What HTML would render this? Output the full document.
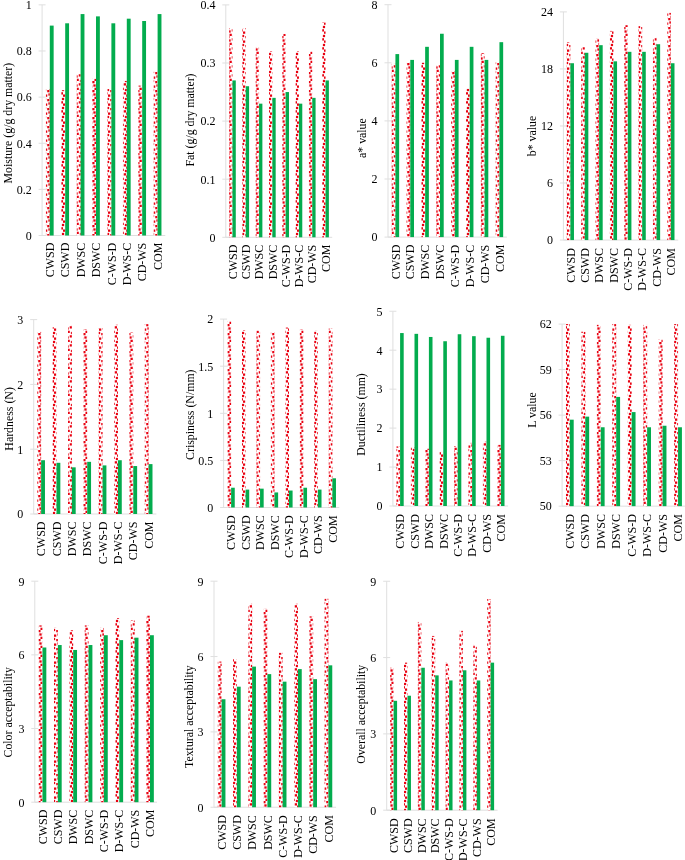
<!DOCTYPE html>
<html lang="en">
<head>
<meta charset="utf-8">
<title>Figure</title>
<style>
html,body{margin:0;padding:0;background:#fff;}
svg{display:block;will-change:transform;opacity:0.999;}
text{font-family:"Liberation Serif","Times New Roman",serif;font-size:12.0px;fill:#000;}
.ax{stroke:#dfdfdf;stroke-width:1;fill:none;}
.g{fill:#03ac4e;}
.r{fill:url(#conf);}
</style>
</head>
<body>
<svg width="685" height="860" viewBox="0 0 685 860">
<defs>
<pattern id="conf" patternUnits="userSpaceOnUse" width="9" height="9">
<rect x="0" y="0" width="9" height="9" fill="#fff"/>
<rect x="2.225" y="-0.025" width="2.300" height="2.300" fill="#e80010"/>
<rect x="6.725" y="2.225" width="2.300" height="2.300" fill="#e80010"/>
<rect x="3.350" y="3.350" width="2.300" height="2.300" fill="#e80010"/>
<rect x="-0.025" y="4.475" width="2.300" height="2.300" fill="#e80010"/>
<rect x="4.475" y="6.725" width="2.300" height="2.300" fill="#e80010"/>
<rect x="7.850" y="7.850" width="2.300" height="2.300" fill="#e80010"/>
<rect x="-1.150" y="7.850" width="2.300" height="2.300" fill="#e80010"/>
<rect x="7.850" y="-1.150" width="2.300" height="2.300" fill="#e80010"/>
<rect x="-1.150" y="-1.150" width="2.300" height="2.300" fill="#e80010"/>
</pattern>
</defs>
<rect x="0" y="0" width="685" height="860" fill="#fff"/>
<g>
<path class="ax" d="M42.10 4.85V235.50H165.30M38.60 235.50h7M38.60 189.37h7M38.60 143.24h7M38.60 97.11h7M38.60 50.98h7M38.60 4.85h7"/>
<rect class="r" x="45.95" y="89.04" width="3.85" height="146.46"/><rect class="g" x="49.80" y="25.61" width="3.85" height="209.89"/>
<rect class="r" x="61.35" y="90.19" width="3.85" height="145.31"/><rect class="g" x="65.20" y="23.30" width="3.85" height="212.20"/>
<rect class="r" x="76.75" y="74.05" width="3.85" height="161.45"/><rect class="g" x="80.60" y="14.08" width="3.85" height="221.42"/>
<rect class="r" x="92.15" y="78.66" width="3.85" height="156.84"/><rect class="g" x="96.00" y="16.38" width="3.85" height="219.12"/>
<rect class="r" x="107.55" y="89.04" width="3.85" height="146.46"/><rect class="g" x="111.40" y="23.30" width="3.85" height="212.20"/>
<rect class="r" x="122.95" y="80.96" width="3.85" height="154.54"/><rect class="g" x="126.80" y="18.69" width="3.85" height="216.81"/>
<rect class="r" x="138.35" y="85.58" width="3.85" height="149.92"/><rect class="g" x="142.20" y="21.00" width="3.85" height="214.50"/>
<rect class="r" x="153.75" y="71.74" width="3.85" height="163.76"/><rect class="g" x="157.60" y="14.08" width="3.85" height="221.42"/>
<text x="31.70" y="239.80" text-anchor="end">0</text>
<text x="31.70" y="193.67" text-anchor="end">0.2</text>
<text x="31.70" y="147.54" text-anchor="end">0.4</text>
<text x="31.70" y="101.41" text-anchor="end">0.6</text>
<text x="31.70" y="55.28" text-anchor="end">0.8</text>
<text x="31.70" y="9.15" text-anchor="end">1</text>
<text transform="translate(54.00 242.70) rotate(-90)" text-anchor="end">CWSD</text>
<text transform="translate(69.40 242.70) rotate(-90)" text-anchor="end">CSWD</text>
<text transform="translate(84.80 242.70) rotate(-90)" text-anchor="end">DWSC</text>
<text transform="translate(100.20 242.70) rotate(-90)" text-anchor="end">DSWC</text>
<text transform="translate(115.60 242.70) rotate(-90)" text-anchor="end">C-WS-D</text>
<text transform="translate(131.00 242.70) rotate(-90)" text-anchor="end">D-WS-C</text>
<text transform="translate(146.40 242.70) rotate(-90)" text-anchor="end">CD-WS</text>
<text transform="translate(161.80 242.70) rotate(-90)" text-anchor="end">COM</text>
<text transform="translate(12.40 123.10) rotate(-90)" text-anchor="middle" style="font-size:11.85px">Moisture (g/g dry matter)</text>
</g>
<g>
<path class="ax" d="M225.80 4.90V237.30H332.20M222.30 237.30h7M222.30 179.20h7M222.30 121.10h7M222.30 63.00h7M222.30 4.90h7"/>
<rect class="r" x="229.12" y="28.14" width="3.33" height="209.16"/><rect class="g" x="232.45" y="80.43" width="3.33" height="156.87"/>
<rect class="r" x="242.43" y="28.14" width="3.33" height="209.16"/><rect class="g" x="245.75" y="86.24" width="3.33" height="151.06"/>
<rect class="r" x="255.72" y="47.31" width="3.33" height="189.99"/><rect class="g" x="259.05" y="103.67" width="3.33" height="133.63"/>
<rect class="r" x="269.03" y="51.38" width="3.33" height="185.92"/><rect class="g" x="272.35" y="97.86" width="3.33" height="139.44"/>
<rect class="r" x="282.32" y="33.95" width="3.33" height="203.35"/><rect class="g" x="285.65" y="92.05" width="3.33" height="145.25"/>
<rect class="r" x="295.62" y="51.38" width="3.33" height="185.92"/><rect class="g" x="298.95" y="103.67" width="3.33" height="133.63"/>
<rect class="r" x="308.93" y="51.38" width="3.33" height="185.92"/><rect class="g" x="312.25" y="97.86" width="3.33" height="139.44"/>
<rect class="r" x="322.23" y="22.33" width="3.33" height="214.97"/><rect class="g" x="325.55" y="80.43" width="3.33" height="156.87"/>
<text x="215.40" y="241.60" text-anchor="end">0</text>
<text x="215.40" y="183.50" text-anchor="end">0.1</text>
<text x="215.40" y="125.40" text-anchor="end">0.2</text>
<text x="215.40" y="67.30" text-anchor="end">0.3</text>
<text x="215.40" y="9.20" text-anchor="end">0.4</text>
<text transform="translate(236.65 244.70) rotate(-90)" text-anchor="end">CWSD</text>
<text transform="translate(249.95 244.70) rotate(-90)" text-anchor="end">CSWD</text>
<text transform="translate(263.25 244.70) rotate(-90)" text-anchor="end">DWSC</text>
<text transform="translate(276.55 244.70) rotate(-90)" text-anchor="end">DSWC</text>
<text transform="translate(289.85 244.70) rotate(-90)" text-anchor="end">C-WS-D</text>
<text transform="translate(303.15 244.70) rotate(-90)" text-anchor="end">D-WS-C</text>
<text transform="translate(316.45 244.70) rotate(-90)" text-anchor="end">CD-WS</text>
<text transform="translate(329.75 244.70) rotate(-90)" text-anchor="end">COM</text>
<text transform="translate(193.50 120.00) rotate(-90)" text-anchor="middle" style="font-size:11.85px">Fat (g/g dry matter)</text>
</g>
<g>
<path class="ax" d="M388.00 4.70V237.10H506.88M384.50 237.10h7M384.50 179.00h7M384.50 120.90h7M384.50 62.80h7M384.50 4.70h7"/>
<rect class="r" x="391.71" y="63.67" width="3.71" height="173.43"/><rect class="g" x="395.43" y="54.09" width="3.71" height="183.01"/>
<rect class="r" x="406.57" y="62.80" width="3.71" height="174.30"/><rect class="g" x="410.29" y="59.90" width="3.71" height="177.20"/>
<rect class="r" x="421.44" y="62.80" width="3.71" height="174.30"/><rect class="g" x="425.15" y="46.82" width="3.71" height="190.28"/>
<rect class="r" x="436.29" y="65.12" width="3.71" height="171.98"/><rect class="g" x="440.01" y="33.75" width="3.71" height="203.35"/>
<rect class="r" x="451.15" y="71.22" width="3.71" height="165.88"/><rect class="g" x="454.87" y="59.90" width="3.71" height="177.20"/>
<rect class="r" x="466.01" y="88.65" width="3.71" height="148.45"/><rect class="g" x="469.73" y="46.82" width="3.71" height="190.28"/>
<rect class="r" x="480.87" y="53.21" width="3.71" height="183.89"/><rect class="g" x="484.59" y="59.90" width="3.71" height="177.20"/>
<rect class="r" x="495.73" y="62.22" width="3.71" height="174.88"/><rect class="g" x="499.45" y="42.17" width="3.71" height="194.93"/>
<text x="377.60" y="241.40" text-anchor="end">0</text>
<text x="377.60" y="183.30" text-anchor="end">2</text>
<text x="377.60" y="125.20" text-anchor="end">4</text>
<text x="377.60" y="67.10" text-anchor="end">6</text>
<text x="377.60" y="9.00" text-anchor="end">8</text>
<text transform="translate(399.63 244.70) rotate(-90)" text-anchor="end">CWSD</text>
<text transform="translate(414.49 244.70) rotate(-90)" text-anchor="end">CSWD</text>
<text transform="translate(429.35 244.70) rotate(-90)" text-anchor="end">DWSC</text>
<text transform="translate(444.21 244.70) rotate(-90)" text-anchor="end">DSWC</text>
<text transform="translate(459.07 244.70) rotate(-90)" text-anchor="end">C-WS-D</text>
<text transform="translate(473.93 244.70) rotate(-90)" text-anchor="end">D-WS-C</text>
<text transform="translate(488.79 244.70) rotate(-90)" text-anchor="end">CD-WS</text>
<text transform="translate(503.65 244.70) rotate(-90)" text-anchor="end">COM</text>
<text transform="translate(366.00 138.10) rotate(-90)" text-anchor="middle" style="font-size:11.85px">a* value</text>
</g>
<g>
<path class="ax" d="M563.40 11.90V240.05H678.28M559.90 240.05h7M559.90 183.01h7M559.90 125.98h7M559.90 68.94h7M559.90 11.90h7"/>
<rect class="r" x="566.79" y="42.32" width="3.59" height="197.73"/><rect class="g" x="570.38" y="63.23" width="3.59" height="176.82"/>
<rect class="r" x="581.15" y="47.07" width="3.59" height="192.98"/><rect class="g" x="584.74" y="52.78" width="3.59" height="187.27"/>
<rect class="r" x="595.51" y="38.52" width="3.59" height="201.53"/><rect class="g" x="599.10" y="45.17" width="3.59" height="194.88"/>
<rect class="r" x="609.87" y="30.91" width="3.59" height="209.14"/><rect class="g" x="613.46" y="61.33" width="3.59" height="178.72"/>
<rect class="r" x="624.23" y="25.21" width="3.59" height="214.84"/><rect class="g" x="627.82" y="51.83" width="3.59" height="188.22"/>
<rect class="r" x="638.59" y="26.16" width="3.59" height="213.89"/><rect class="g" x="642.18" y="51.83" width="3.59" height="188.22"/>
<rect class="r" x="652.95" y="37.57" width="3.59" height="202.48"/><rect class="g" x="656.54" y="44.22" width="3.59" height="195.83"/>
<rect class="r" x="667.31" y="12.85" width="3.59" height="227.20"/><rect class="g" x="670.90" y="63.23" width="3.59" height="176.82"/>
<text x="553.00" y="244.35" text-anchor="end">0</text>
<text x="553.00" y="187.31" text-anchor="end">6</text>
<text x="553.00" y="130.28" text-anchor="end">12</text>
<text x="553.00" y="73.24" text-anchor="end">18</text>
<text x="553.00" y="16.20" text-anchor="end">24</text>
<text transform="translate(574.58 248.10) rotate(-90)" text-anchor="end">CWSD</text>
<text transform="translate(588.94 248.10) rotate(-90)" text-anchor="end">CSWD</text>
<text transform="translate(603.30 248.10) rotate(-90)" text-anchor="end">DWSC</text>
<text transform="translate(617.66 248.10) rotate(-90)" text-anchor="end">DSWC</text>
<text transform="translate(632.02 248.10) rotate(-90)" text-anchor="end">C-WS-D</text>
<text transform="translate(646.38 248.10) rotate(-90)" text-anchor="end">D-WS-C</text>
<text transform="translate(660.74 248.10) rotate(-90)" text-anchor="end">CD-WS</text>
<text transform="translate(675.10 248.10) rotate(-90)" text-anchor="end">COM</text>
<text transform="translate(535.90 136.05) rotate(-90)" text-anchor="middle" style="font-size:11.85px">b* value</text>
</g>
<g>
<path class="ax" d="M33.70 319.60V514.00H156.40M30.20 514.00h7M30.20 449.20h7M30.20 384.40h7M30.20 319.60h7"/>
<rect class="r" x="37.29" y="331.91" width="3.84" height="182.09"/><rect class="g" x="41.13" y="460.22" width="3.84" height="53.78"/>
<rect class="r" x="52.65" y="327.38" width="3.84" height="186.62"/><rect class="g" x="56.49" y="462.81" width="3.84" height="51.19"/>
<rect class="r" x="68.01" y="325.43" width="3.84" height="188.57"/><rect class="g" x="71.85" y="467.34" width="3.84" height="46.66"/>
<rect class="r" x="83.37" y="329.32" width="3.84" height="184.68"/><rect class="g" x="87.21" y="461.84" width="3.84" height="52.16"/>
<rect class="r" x="98.73" y="328.02" width="3.84" height="185.98"/><rect class="g" x="102.57" y="465.40" width="3.84" height="48.60"/>
<rect class="r" x="114.09" y="324.78" width="3.84" height="189.22"/><rect class="g" x="117.93" y="460.22" width="3.84" height="53.78"/>
<rect class="r" x="129.45" y="332.56" width="3.84" height="181.44"/><rect class="g" x="133.29" y="466.05" width="3.84" height="47.95"/>
<rect class="r" x="144.81" y="324.14" width="3.84" height="189.86"/><rect class="g" x="148.65" y="464.10" width="3.84" height="49.90"/>
<text x="23.30" y="518.30" text-anchor="end">0</text>
<text x="23.30" y="453.50" text-anchor="end">1</text>
<text x="23.30" y="388.70" text-anchor="end">2</text>
<text x="23.30" y="323.90" text-anchor="end">3</text>
<text transform="translate(45.33 521.50) rotate(-90)" text-anchor="end">CWSD</text>
<text transform="translate(60.69 521.50) rotate(-90)" text-anchor="end">CSWD</text>
<text transform="translate(76.05 521.50) rotate(-90)" text-anchor="end">DWSC</text>
<text transform="translate(91.41 521.50) rotate(-90)" text-anchor="end">DSWC</text>
<text transform="translate(106.77 521.50) rotate(-90)" text-anchor="end">C-WS-D</text>
<text transform="translate(122.13 521.50) rotate(-90)" text-anchor="end">D-WS-C</text>
<text transform="translate(137.49 521.50) rotate(-90)" text-anchor="end">CD-WS</text>
<text transform="translate(152.85 521.50) rotate(-90)" text-anchor="end">COM</text>
<text transform="translate(12.50 418.90) rotate(-90)" text-anchor="middle" style="font-size:11.85px">Hardness (N)</text>
</g>
<g>
<path class="ax" d="M223.60 319.10V507.50H339.28M220.10 507.50h7M220.10 460.40h7M220.10 413.30h7M220.10 366.20h7M220.10 319.10h7"/>
<rect class="r" x="227.52" y="320.98" width="3.62" height="186.52"/><rect class="g" x="231.13" y="487.72" width="3.62" height="19.78"/>
<rect class="r" x="241.98" y="330.40" width="3.62" height="177.10"/><rect class="g" x="245.59" y="489.60" width="3.62" height="17.90"/>
<rect class="r" x="256.44" y="330.40" width="3.62" height="177.10"/><rect class="g" x="260.05" y="488.66" width="3.62" height="18.84"/>
<rect class="r" x="270.90" y="332.29" width="3.62" height="175.21"/><rect class="g" x="274.51" y="492.43" width="3.62" height="15.07"/>
<rect class="r" x="285.36" y="327.58" width="3.62" height="179.92"/><rect class="g" x="288.97" y="490.54" width="3.62" height="16.96"/>
<rect class="r" x="299.81" y="329.46" width="3.62" height="178.04"/><rect class="g" x="303.43" y="487.72" width="3.62" height="19.78"/>
<rect class="r" x="314.28" y="330.88" width="3.62" height="176.62"/><rect class="g" x="317.89" y="489.60" width="3.62" height="17.90"/>
<rect class="r" x="328.74" y="328.52" width="3.62" height="178.98"/><rect class="g" x="332.35" y="478.30" width="3.62" height="29.20"/>
<text x="213.20" y="511.80" text-anchor="end">0</text>
<text x="213.20" y="464.70" text-anchor="end">0.5</text>
<text x="213.20" y="417.60" text-anchor="end">1</text>
<text x="213.20" y="370.50" text-anchor="end">1.5</text>
<text x="213.20" y="323.40" text-anchor="end">2</text>
<text transform="translate(235.33 515.30) rotate(-90)" text-anchor="end">CWSD</text>
<text transform="translate(249.79 515.30) rotate(-90)" text-anchor="end">CSWD</text>
<text transform="translate(264.25 515.30) rotate(-90)" text-anchor="end">DWSC</text>
<text transform="translate(278.71 515.30) rotate(-90)" text-anchor="end">DSWC</text>
<text transform="translate(293.17 515.30) rotate(-90)" text-anchor="end">C-WS-D</text>
<text transform="translate(307.63 515.30) rotate(-90)" text-anchor="end">D-WS-C</text>
<text transform="translate(322.09 515.30) rotate(-90)" text-anchor="end">CD-WS</text>
<text transform="translate(336.55 515.30) rotate(-90)" text-anchor="end">COM</text>
<text transform="translate(193.50 414.70) rotate(-90)" text-anchor="middle" style="font-size:11.85px">Crispiness (N/mm)</text>
</g>
<g>
<path class="ax" d="M392.90 311.25V506.00H508.10M389.40 506.00h7M389.40 467.05h7M389.40 428.10h7M389.40 389.15h7M389.40 350.20h7M389.40 311.25h7"/>
<rect class="r" x="396.50" y="446.41" width="3.60" height="59.59"/><rect class="g" x="400.10" y="333.06" width="3.60" height="172.94"/>
<rect class="r" x="410.90" y="447.19" width="3.60" height="58.81"/><rect class="g" x="414.50" y="333.84" width="3.60" height="172.16"/>
<rect class="r" x="425.30" y="448.74" width="3.60" height="57.26"/><rect class="g" x="428.90" y="336.96" width="3.60" height="169.04"/>
<rect class="r" x="439.70" y="451.86" width="3.60" height="54.14"/><rect class="g" x="443.30" y="341.24" width="3.60" height="164.76"/>
<rect class="r" x="454.10" y="446.02" width="3.60" height="59.98"/><rect class="g" x="457.70" y="334.23" width="3.60" height="171.77"/>
<rect class="r" x="468.50" y="442.90" width="3.60" height="63.10"/><rect class="g" x="472.10" y="336.18" width="3.60" height="169.82"/>
<rect class="r" x="482.90" y="441.73" width="3.60" height="64.27"/><rect class="g" x="486.50" y="337.74" width="3.60" height="168.26"/>
<rect class="r" x="497.30" y="444.85" width="3.60" height="61.15"/><rect class="g" x="500.90" y="335.79" width="3.60" height="170.21"/>
<text x="382.50" y="510.30" text-anchor="end">0</text>
<text x="382.50" y="471.35" text-anchor="end">1</text>
<text x="382.50" y="432.40" text-anchor="end">2</text>
<text x="382.50" y="393.45" text-anchor="end">3</text>
<text x="382.50" y="354.50" text-anchor="end">4</text>
<text x="382.50" y="315.55" text-anchor="end">5</text>
<text transform="translate(404.30 514.10) rotate(-90)" text-anchor="end">CWSD</text>
<text transform="translate(418.70 514.10) rotate(-90)" text-anchor="end">CSWD</text>
<text transform="translate(433.10 514.10) rotate(-90)" text-anchor="end">DWSC</text>
<text transform="translate(447.50 514.10) rotate(-90)" text-anchor="end">DSWC</text>
<text transform="translate(461.90 514.10) rotate(-90)" text-anchor="end">C-WS-D</text>
<text transform="translate(476.30 514.10) rotate(-90)" text-anchor="end">D-WS-C</text>
<text transform="translate(490.70 514.10) rotate(-90)" text-anchor="end">CD-WS</text>
<text transform="translate(505.10 514.10) rotate(-90)" text-anchor="end">COM</text>
<text transform="translate(365.30 414.50) rotate(-90)" text-anchor="middle" style="font-size:11.85px">Ductiliness (mm)</text>
</g>
<g>
<path class="ax" d="M562.10 324.10V506.15H685.78M558.60 506.15h7M558.60 460.64h7M558.60 415.12h7M558.60 369.61h7M558.60 324.10h7"/>
<rect class="r" x="565.97" y="324.10" width="3.87" height="182.05"/><rect class="g" x="569.83" y="419.68" width="3.87" height="86.47"/>
<rect class="r" x="581.43" y="331.69" width="3.87" height="174.46"/><rect class="g" x="585.29" y="416.64" width="3.87" height="89.51"/>
<rect class="r" x="596.88" y="324.86" width="3.87" height="181.29"/><rect class="g" x="600.75" y="427.26" width="3.87" height="78.89"/>
<rect class="r" x="612.35" y="324.10" width="3.87" height="182.05"/><rect class="g" x="616.21" y="396.92" width="3.87" height="109.23"/>
<rect class="r" x="627.81" y="324.86" width="3.87" height="181.29"/><rect class="g" x="631.67" y="412.09" width="3.87" height="94.06"/>
<rect class="r" x="643.27" y="324.86" width="3.87" height="181.29"/><rect class="g" x="647.13" y="427.26" width="3.87" height="78.89"/>
<rect class="r" x="658.73" y="339.27" width="3.87" height="166.88"/><rect class="g" x="662.59" y="425.74" width="3.87" height="80.41"/>
<rect class="r" x="674.19" y="324.10" width="3.87" height="182.05"/><rect class="g" x="678.05" y="427.26" width="3.87" height="78.89"/>
<text x="551.70" y="510.45" text-anchor="end">50</text>
<text x="551.70" y="464.94" text-anchor="end">53</text>
<text x="551.70" y="419.43" text-anchor="end">56</text>
<text x="551.70" y="373.91" text-anchor="end">59</text>
<text x="551.70" y="328.40" text-anchor="end">62</text>
<text transform="translate(574.03 514.10) rotate(-90)" text-anchor="end">CWSD</text>
<text transform="translate(589.49 514.10) rotate(-90)" text-anchor="end">CSWD</text>
<text transform="translate(604.95 514.10) rotate(-90)" text-anchor="end">DWSC</text>
<text transform="translate(620.41 514.10) rotate(-90)" text-anchor="end">DSWC</text>
<text transform="translate(635.87 514.10) rotate(-90)" text-anchor="end">C-WS-D</text>
<text transform="translate(651.33 514.10) rotate(-90)" text-anchor="end">D-WS-C</text>
<text transform="translate(666.79 514.10) rotate(-90)" text-anchor="end">CD-WS</text>
<text transform="translate(682.25 514.10) rotate(-90)" text-anchor="end">COM</text>
<text transform="translate(536.00 410.00) rotate(-90)" text-anchor="middle" style="font-size:11.85px">L value</text>
</g>
<g>
<path class="ax" d="M34.80 581.20V802.20H157.00M31.30 802.20h7M31.30 728.53h7M31.30 654.87h7M31.30 581.20h7"/>
<rect class="r" x="38.64" y="625.40" width="3.84" height="176.80"/><rect class="g" x="42.48" y="647.50" width="3.84" height="154.70"/>
<rect class="r" x="54.00" y="627.86" width="3.84" height="174.34"/><rect class="g" x="57.84" y="645.04" width="3.84" height="157.16"/>
<rect class="r" x="69.36" y="630.31" width="3.84" height="171.89"/><rect class="g" x="73.20" y="649.96" width="3.84" height="152.24"/>
<rect class="r" x="84.72" y="625.40" width="3.84" height="176.80"/><rect class="g" x="88.56" y="645.04" width="3.84" height="157.16"/>
<rect class="r" x="100.08" y="627.86" width="3.84" height="174.34"/><rect class="g" x="103.92" y="635.22" width="3.84" height="166.98"/>
<rect class="r" x="115.44" y="618.03" width="3.84" height="184.17"/><rect class="g" x="119.28" y="640.13" width="3.84" height="162.07"/>
<rect class="r" x="130.80" y="620.49" width="3.84" height="181.71"/><rect class="g" x="134.64" y="637.68" width="3.84" height="164.52"/>
<rect class="r" x="146.16" y="615.58" width="3.84" height="186.62"/><rect class="g" x="150.00" y="635.22" width="3.84" height="166.98"/>
<text x="24.40" y="806.50" text-anchor="end">0</text>
<text x="24.40" y="732.83" text-anchor="end">3</text>
<text x="24.40" y="659.17" text-anchor="end">6</text>
<text x="24.40" y="585.50" text-anchor="end">9</text>
<text transform="translate(46.68 809.70) rotate(-90)" text-anchor="end">CWSD</text>
<text transform="translate(62.04 809.70) rotate(-90)" text-anchor="end">CSWD</text>
<text transform="translate(77.40 809.70) rotate(-90)" text-anchor="end">DWSC</text>
<text transform="translate(92.76 809.70) rotate(-90)" text-anchor="end">DSWC</text>
<text transform="translate(108.12 809.70) rotate(-90)" text-anchor="end">C-WS-D</text>
<text transform="translate(123.48 809.70) rotate(-90)" text-anchor="end">D-WS-C</text>
<text transform="translate(138.84 809.70) rotate(-90)" text-anchor="end">CD-WS</text>
<text transform="translate(154.20 809.70) rotate(-90)" text-anchor="end">COM</text>
<text transform="translate(12.40 712.30) rotate(-90)" text-anchor="middle" style="font-size:11.85px">Color acceptability</text>
</g>
<g>
<path class="ax" d="M214.00 581.20V807.25H336.08M210.50 807.25h7M210.50 731.90h7M210.50 656.55h7M210.50 581.20h7"/>
<rect class="r" x="217.81" y="661.57" width="3.81" height="145.68"/><rect class="g" x="221.63" y="699.25" width="3.81" height="108.00"/>
<rect class="r" x="233.07" y="659.06" width="3.81" height="148.19"/><rect class="g" x="236.89" y="686.69" width="3.81" height="120.56"/>
<rect class="r" x="248.34" y="603.81" width="3.81" height="203.44"/><rect class="g" x="252.15" y="666.60" width="3.81" height="140.65"/>
<rect class="r" x="263.59" y="608.83" width="3.81" height="198.42"/><rect class="g" x="267.41" y="674.13" width="3.81" height="133.12"/>
<rect class="r" x="278.86" y="652.78" width="3.81" height="154.47"/><rect class="g" x="282.67" y="681.67" width="3.81" height="125.58"/>
<rect class="r" x="294.12" y="603.81" width="3.81" height="203.44"/><rect class="g" x="297.93" y="669.11" width="3.81" height="138.14"/>
<rect class="r" x="309.38" y="616.36" width="3.81" height="190.89"/><rect class="g" x="313.19" y="679.15" width="3.81" height="128.09"/>
<rect class="r" x="324.63" y="598.78" width="3.81" height="208.47"/><rect class="g" x="328.45" y="665.34" width="3.81" height="141.91"/>
<text x="203.60" y="811.55" text-anchor="end">0</text>
<text x="203.60" y="736.20" text-anchor="end">3</text>
<text x="203.60" y="660.85" text-anchor="end">6</text>
<text x="203.60" y="585.50" text-anchor="end">9</text>
<text transform="translate(225.83 815.20) rotate(-90)" text-anchor="end">CWSD</text>
<text transform="translate(241.09 815.20) rotate(-90)" text-anchor="end">CSWD</text>
<text transform="translate(256.35 815.20) rotate(-90)" text-anchor="end">DWSC</text>
<text transform="translate(271.61 815.20) rotate(-90)" text-anchor="end">DSWC</text>
<text transform="translate(286.87 815.20) rotate(-90)" text-anchor="end">C-WS-D</text>
<text transform="translate(302.13 815.20) rotate(-90)" text-anchor="end">D-WS-C</text>
<text transform="translate(317.39 815.20) rotate(-90)" text-anchor="end">CD-WS</text>
<text transform="translate(332.65 815.20) rotate(-90)" text-anchor="end">COM</text>
<text transform="translate(193.30 716.60) rotate(-90)" text-anchor="middle" style="font-size:11.85px">Textural acceptability</text>
</g>
<g>
<path class="ax" d="M386.70 581.25V810.20H497.58M383.20 810.20h7M383.20 733.88h7M383.20 657.57h7M383.20 581.25h7"/>
<rect class="r" x="390.16" y="667.74" width="3.46" height="142.46"/><rect class="g" x="393.63" y="700.81" width="3.46" height="109.39"/>
<rect class="r" x="404.02" y="662.65" width="3.46" height="147.55"/><rect class="g" x="407.49" y="695.73" width="3.46" height="114.48"/>
<rect class="r" x="417.88" y="621.95" width="3.46" height="188.25"/><rect class="g" x="421.35" y="667.74" width="3.46" height="142.46"/>
<rect class="r" x="431.74" y="635.94" width="3.46" height="174.26"/><rect class="g" x="435.21" y="675.37" width="3.46" height="134.83"/>
<rect class="r" x="445.60" y="662.65" width="3.46" height="147.55"/><rect class="g" x="449.07" y="680.46" width="3.46" height="129.74"/>
<rect class="r" x="459.46" y="630.86" width="3.46" height="179.34"/><rect class="g" x="462.93" y="670.29" width="3.46" height="139.91"/>
<rect class="r" x="473.32" y="644.85" width="3.46" height="165.35"/><rect class="g" x="476.79" y="680.46" width="3.46" height="129.74"/>
<rect class="r" x="487.18" y="599.06" width="3.46" height="211.14"/><rect class="g" x="490.65" y="662.65" width="3.46" height="147.55"/>
<text x="376.30" y="814.50" text-anchor="end">0</text>
<text x="376.30" y="738.18" text-anchor="end">3</text>
<text x="376.30" y="661.87" text-anchor="end">6</text>
<text x="376.30" y="585.55" text-anchor="end">9</text>
<text transform="translate(397.83 818.40) rotate(-90)" text-anchor="end">CWSD</text>
<text transform="translate(411.69 818.40) rotate(-90)" text-anchor="end">CSWD</text>
<text transform="translate(425.55 818.40) rotate(-90)" text-anchor="end">DWSC</text>
<text transform="translate(439.41 818.40) rotate(-90)" text-anchor="end">DSWC</text>
<text transform="translate(453.27 818.40) rotate(-90)" text-anchor="end">C-WS-D</text>
<text transform="translate(467.13 818.40) rotate(-90)" text-anchor="end">D-WS-C</text>
<text transform="translate(480.99 818.40) rotate(-90)" text-anchor="end">CD-WS</text>
<text transform="translate(494.85 818.40) rotate(-90)" text-anchor="end">COM</text>
<text transform="translate(365.30 714.30) rotate(-90)" text-anchor="middle" style="font-size:11.85px">Overall acceptability</text>
</g>
</svg>
</body>
</html>
